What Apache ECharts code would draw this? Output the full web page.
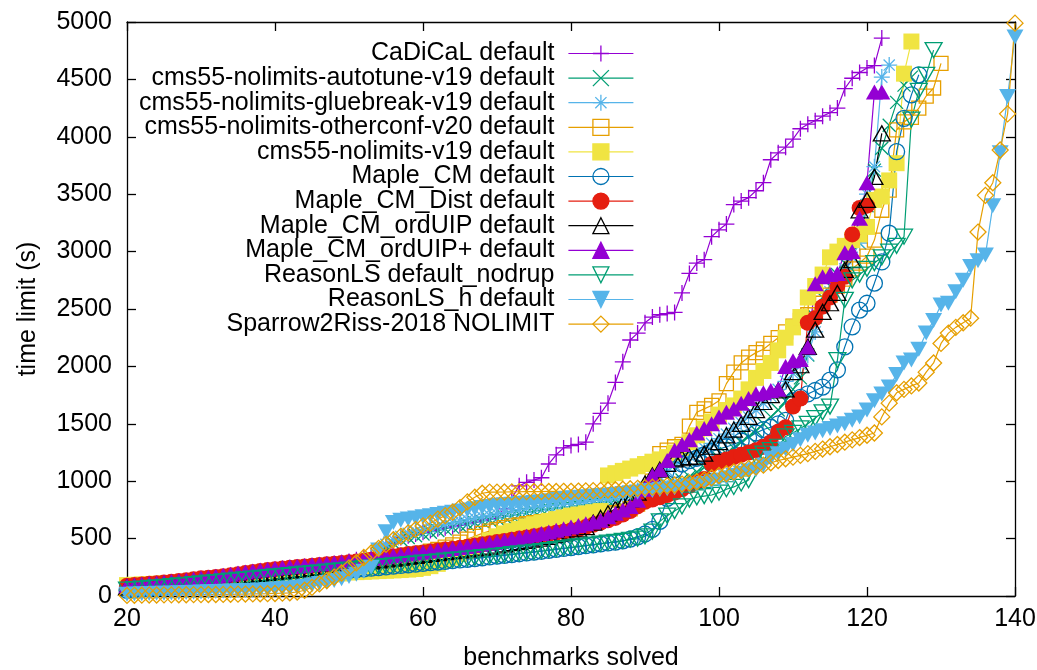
<!DOCTYPE html>
<html><head><meta charset="utf-8">
<script src="https://cdn.jsdelivr.net/npm/echarts@6/dist/echarts.min.js"></script>
<style>html,body{margin:0;padding:0;background:#fff}#c{width:1037px;height:670px}</style>
</head><body><div id="c"></div>
<script>
const FONT = '"Liberation Sans", Arial, Helvetica, sans-serif';

// x tick labels / y tick labels
const xTicks = [20, 40, 60, 80, 100, 120, 140];
const yTicks = [0, 500, 1000, 1500, 2000, 2500, 3000, 3500, 4000, 4500, 5000];

const seriesNames = [
  'CaDiCaL default',
  'cms55-nolimits-autotune-v19 default',
  'cms55-nolimits-gluebreak-v19 default',
  'cms55-nolimits-otherconf-v20 default',
  'cms55-nolimits-v19 default',
  'Maple_CM default',
  'Maple_CM_Dist default',
  'Maple_CM_ordUIP default',
  'Maple_CM_ordUIP+ default',
  'ReasonLS default_nodrup',
  'ReasonLS_h default',
  'Sparrow2Riss-2018 NOLIMIT'
];

// first "benchmarks solved" value shown for each series (values below are consecutive counts)
const firstSolved = 20;

const cadical = [70,75,80,85,90,95,100,105,115,125,
130,138,145,152,160,170,180,190,200,210,
220,228,235,242,250,258,265,272,280,290,
300,315,330,350,370,420,460,510,525,540,
555,570,585,595,605,615,630,645,660,675,
700,760,850,960,990,1010,1030,1150,1230,1290,
1310,1320,1340,1500,1590,1680,1860,2040,2230,2290,
2380,2430,2450,2460,2470,2640,2810,2900,2930,3130,
3190,3240,3410,3440,3470,3530,3600,3800,3860,3910,
3980,4070,4110,4140,4180,4210,4250,4420,4510,4560,
4600,4620,4860];

const autotune = [55,60,65,70,75,80,88,95,100,108,
115,120,127,133,140,148,155,162,170,178,
185,192,200,207,215,222,230,238,245,255,
265,275,290,320,370,420,460,490,510,525,
540,555,570,585,600,612,625,638,650,662,
675,688,700,712,725,738,750,760,770,775,
780,790,800,810,820,830,845,860,875,890,
905,920,940,960,985,1010,1040,1080,1120,1160,
1200,1240,1290,1340,1390,1440,1500,1560,1620,1700,
1800,1900,2100,2430,2600,2700,2800,2900,3000,3075,
3400,3710,3900,4100,4300,4450,4520];

const gluebreak = [60,65,70,75,80,85,92,98,105,112,
118,125,132,138,145,152,160,167,175,182,
190,197,205,212,220,228,236,244,252,262,
272,285,300,340,400,450,490,520,545,565,
580,595,610,625,640,652,665,678,690,702,
715,728,740,752,765,775,782,788,794,800,
805,810,820,830,840,850,865,880,900,920,
950,990,1040,1090,1140,1190,1220,1250,1290,1330,
1370,1410,1460,1510,1560,1620,1680,1740,1800,1870,
1940,2020,2100,2300,2500,2650,2750,2850,2950,3075,
3500,3740,4520,4625];

const otherconf = [65,70,75,80,86,92,98,104,110,116,
122,128,135,142,150,158,165,172,180,188,
195,202,210,217,225,232,240,248,256,265,
275,285,295,305,315,325,335,345,355,365,
375,390,405,425,445,470,495,520,545,565,
580,595,610,620,630,640,648,655,662,668,
675,680,688,695,705,715,725,740,760,800,
860,1000,1240,1270,1300,1320,1480,1600,1630,1660,
1700,1850,1950,2030,2080,2120,2150,2200,2250,2300,
2350,2400,2450,2500,2550,2620,2700,2760,2850,2900,
2960,3100,3360,3535,4060,4130,4170,4250,4355,4425,
4640];

const nolimits = [95,98,101,104,107,110,113,116,119,122,
125,128,131,134,137,140,143,146,149,152,
155,158,161,164,167,171,175,180,188,196,
205,208,211,214,217,220,223,226,230,235,
245,260,280,305,335,365,395,425,455,485,
520,545,565,585,605,625,640,655,670,685,
700,710,720,730,740,1050,1070,1090,1110,1130,
1150,1170,1190,1210,1250,1290,1340,1400,1460,1520,
1580,1620,1660,1720,1800,1900,1960,2030,2140,2250,
2340,2430,2600,2700,2800,2950,3000,3050,3100,3150,
3215,3450,3480,3620,3770,4550,4830];

const mapleCM = [50,55,60,65,70,75,80,86,92,98,
104,110,116,122,128,134,140,146,152,158,
164,170,176,182,188,194,200,206,212,218,
224,230,236,242,248,254,260,266,272,278,
284,290,296,302,308,314,320,326,333,340,
347,354,361,368,375,382,390,398,406,414,
422,430,438,446,454,462,470,480,495,515,
540,580,650,850,1100,1150,1180,1200,1230,1260,
1280,1300,1320,1350,1380,1420,1450,1470,1500,1530,
1700,1730,1760,1790,1820,1880,1970,2170,2345,2490,
2550,2725,2910,3160,3870,4160,4365,4540];

const mapleDist = [90,95,100,106,112,118,124,130,138,146,
154,160,166,172,180,190,200,210,218,226,
234,240,246,252,258,264,270,276,282,288,
294,300,308,316,325,335,345,355,365,372,
380,388,396,404,412,420,430,440,450,460,
470,480,490,500,510,520,530,540,550,560,
570,580,600,620,640,660,680,710,740,780,
820,840,860,880,900,930,960,990,1020,1150,
1170,1190,1210,1230,1250,1270,1300,1340,1430,1470,
1650,1720,2380,2420,2520,2600,2700,2780,3150,3380,
3400];

const ordUIP = [75,80,85,90,96,102,108,114,120,126,
132,138,145,152,160,168,176,184,192,200,
207,214,221,228,235,242,249,256,263,270,
278,286,294,302,310,318,326,334,342,350,
358,366,374,382,390,398,406,414,422,430,
440,450,460,470,480,490,500,515,530,545,
560,580,600,640,680,720,760,800,840,900,
980,1050,1100,1150,1190,1200,1210,1215,1240,1300,
1340,1400,1450,1500,1560,1620,1690,1750,1790,1800,
1950,2010,2170,2320,2475,2550,2640,2840,2925,3360,
3450,3650,4030];

const ordUIPplus = [90,96,102,108,114,120,126,132,140,148,
156,164,172,180,190,200,210,218,226,234,
242,248,254,260,266,272,278,284,290,296,
302,310,318,326,334,342,350,358,366,374,
382,390,398,406,414,422,432,442,452,462,
472,484,496,508,520,532,545,558,572,586,
600,615,630,645,660,690,720,750,780,835,
930,1050,1100,1180,1270,1320,1360,1420,1460,1500,
1560,1600,1630,1680,1720,1760,1770,1790,1800,2000,
2050,2060,2170,2720,2780,2800,2810,2990,3000,3290,
3600,4390,4390];

const nodrup = [55,60,65,70,75,80,86,92,98,104,
110,116,122,128,134,140,146,152,158,164,
170,176,182,188,194,200,206,212,218,224,
230,236,242,248,254,260,266,272,278,284,
290,296,302,308,314,320,326,332,338,344,
350,357,364,371,378,385,392,400,408,416,
424,432,440,448,456,464,472,480,490,500,
520,560,650,700,740,780,840,860,870,880,
900,930,950,980,1010,1210,1240,1270,1300,1390,
1420,1460,1500,1550,1600,1650,2055,2580,2750,2800,
2850,2900,2950,3000,3050,3130,4150,4400,4540,4755];

const reasonH = [15,17,19,21,23,25,27,29,31,33,
35,37,39,41,43,45,47,50,53,56,
60,65,70,76,84,95,108,120,135,150,
170,190,215,250,400,560,640,660,670,680,
690,700,710,720,730,740,750,760,770,780,
790,795,800,805,810,815,820,830,840,850,
855,860,865,870,875,880,885,892,900,907,
914,920,927,934,942,950,960,970,980,995,
1010,1030,1050,1070,1090,1100,1140,1200,1240,1280,
1320,1360,1400,1420,1440,1460,1480,1500,1530,1560,
1620,1700,1760,1820,1930,2030,2055,2150,2290,2400,
2535,2550,2650,2750,2870,2920,2970,3400,3860,4350,
4870];

const sparrow = [5,6,7,8,9,10,10,11,11,12,
12,13,13,14,15,16,17,18,19,20,
22,25,28,35,50,75,105,135,165,200,
245,290,335,375,415,450,490,520,550,580,
610,635,670,700,730,770,820,860,895,905,
905,906,907,908,909,910,910,911,911,912,
912,914,916,918,920,923,926,930,934,938,
943,948,953,960,967,975,985,995,1010,1030,
1050,1065,1080,1095,1110,1125,1140,1160,1180,1195,
1210,1225,1240,1260,1280,1300,1320,1340,1360,1380,
1400,1420,1560,1680,1770,1800,1830,1855,1950,2030,
2200,2290,2340,2380,2420,3170,3490,3600,3885,4200,
4990];

const seriesValues = [cadical, autotune, gluebreak, otherconf, nolimits, mapleCM,
  mapleDist, ordUIP, ordUIPplus, nodrup, reasonH, sparrow];

const colors = ['#9400d3','#009e73','#56b4e9','#e69f00','#f0e442','#0072b2',
  '#e51e10','#000000','#9400d3','#009e73','#56b4e9','#e69f00'];

const SYM = {
  plus: 'path://M5,0L5,10M0,5L10,5',
  cross: 'path://M0,0L10,10M0,10L10,0',
  star: 'path://M5,0L5,10M0,5L10,5M1.5,1.5L8.5,8.5M1.5,8.5L8.5,1.5',
  rect: 'rect',
  circle: 'circle',
  triUp: 'path://M5,0L10,8.66L0,8.66Z',
  triDown: 'path://M0,0L10,0L5,8.66Z',
  diamond: 'diamond'
};
// [symbol, size, filled]
const marks = [
  [SYM.plus, 16, false],
  [SYM.cross, 13, false],
  [SYM.star, 16, false],
  [SYM.rect, 14, false],
  [SYM.rect, 16, true],
  [SYM.circle, 16, false],
  [SYM.circle, 16, true],
  [SYM.triUp, [17, 15], false],
  [SYM.triUp, [17, 15], true],
  [SYM.triDown, [17, 15], false],
  [SYM.triDown, [17, 15], true],
  [SYM.diamond, 16, false]
];

const series = seriesNames.map((name, k) => {
  const c = colors[k];
  const m = marks[k];
  return {
    type: 'line',
    name: name,
    data: seriesValues[k].map((v, i) => [firstSolved + i, v]),
    xAxisIndex: 0, yAxisIndex: 0,
    symbol: m[0],
    symbolSize: m[1],
    showAllSymbol: true,
    clip: true,
    lineStyle: { color: c, width: 1.2 },
    itemStyle: m[2] ? { color: c, borderColor: c, borderWidth: 0 }
                    : { color: 'rgba(0,0,0,0)', borderColor: c, borderWidth: 1.3 },
    emphasis: { disabled: true },
    animation: false
  };
});

const FS = 25;
const axisCommon = {
  axisLine: { show: true, onZero: false, lineStyle: { color: '#000', width: 1.3 } },
  axisTick: { show: true, inside: true, length: 9, lineStyle: { color: '#000', width: 1.3 } },
  splitLine: { show: false },
  minorTick: { show: false }
};
const labelStyle = { color: '#000', fontSize: FS, fontFamily: FONT };

const chart = echarts.init(document.getElementById('c'), null, { renderer: 'canvas' });
chart.setOption({
  animation: false,
  backgroundColor: '#fff',
  grid: { left: 127, right: 22, top: 22, bottom: 74, containLabel: false, outerBoundsMode: 'none' },
  xAxis: [
    Object.assign({
      type: 'value', min: xTicks[0], max: xTicks[xTicks.length - 1], interval: xTicks[1] - xTicks[0],
      position: 'bottom',
      axisLabel: Object.assign({ margin: 11, showMinLabel: true, showMaxLabel: true,
        formatter: v => String(v) }, labelStyle),
      name: 'benchmarks solved', nameLocation: 'middle', nameGap: 50,
      nameTextStyle: labelStyle
    }, axisCommon),
    Object.assign({
      type: 'value', min: xTicks[0], max: xTicks[xTicks.length - 1], interval: xTicks[1] - xTicks[0],
      position: 'top', axisLabel: { show: false }
    }, axisCommon)
  ],
  yAxis: [
    Object.assign({
      type: 'value', min: yTicks[0], max: yTicks[yTicks.length - 1], interval: yTicks[1] - yTicks[0],
      position: 'left',
      axisLabel: Object.assign({ margin: 15, showMinLabel: true, showMaxLabel: true,
        formatter: v => String(v) }, labelStyle),
      name: 'time limit (s)', nameLocation: 'middle', nameGap: 86,
      nameTextStyle: labelStyle
    }, axisCommon),
    Object.assign({
      type: 'value', min: yTicks[0], max: yTicks[yTicks.length - 1], interval: yTicks[1] - yTicks[0],
      position: 'right', axisLabel: { show: false }
    }, axisCommon)
  ],
  legend: {
    show: true,
    orient: 'vertical',
    align: 'right',
    right: 403,
    top: 41,
    padding: 0,
    itemGap: -0.4,
    itemWidth: 65,
    itemHeight: 20,
    data: seriesNames,
    selectedMode: false,
    textStyle: { color: '#000', fontSize: FS, lineHeight: 24, fontFamily: FONT, padding: [0, 9, 0, 0] },
    itemStyle: { borderWidth: 1.3 },
    lineStyle: { width: 1.2 }
  },
  tooltip: { show: false },
  series: series
});
</script></body></html>
